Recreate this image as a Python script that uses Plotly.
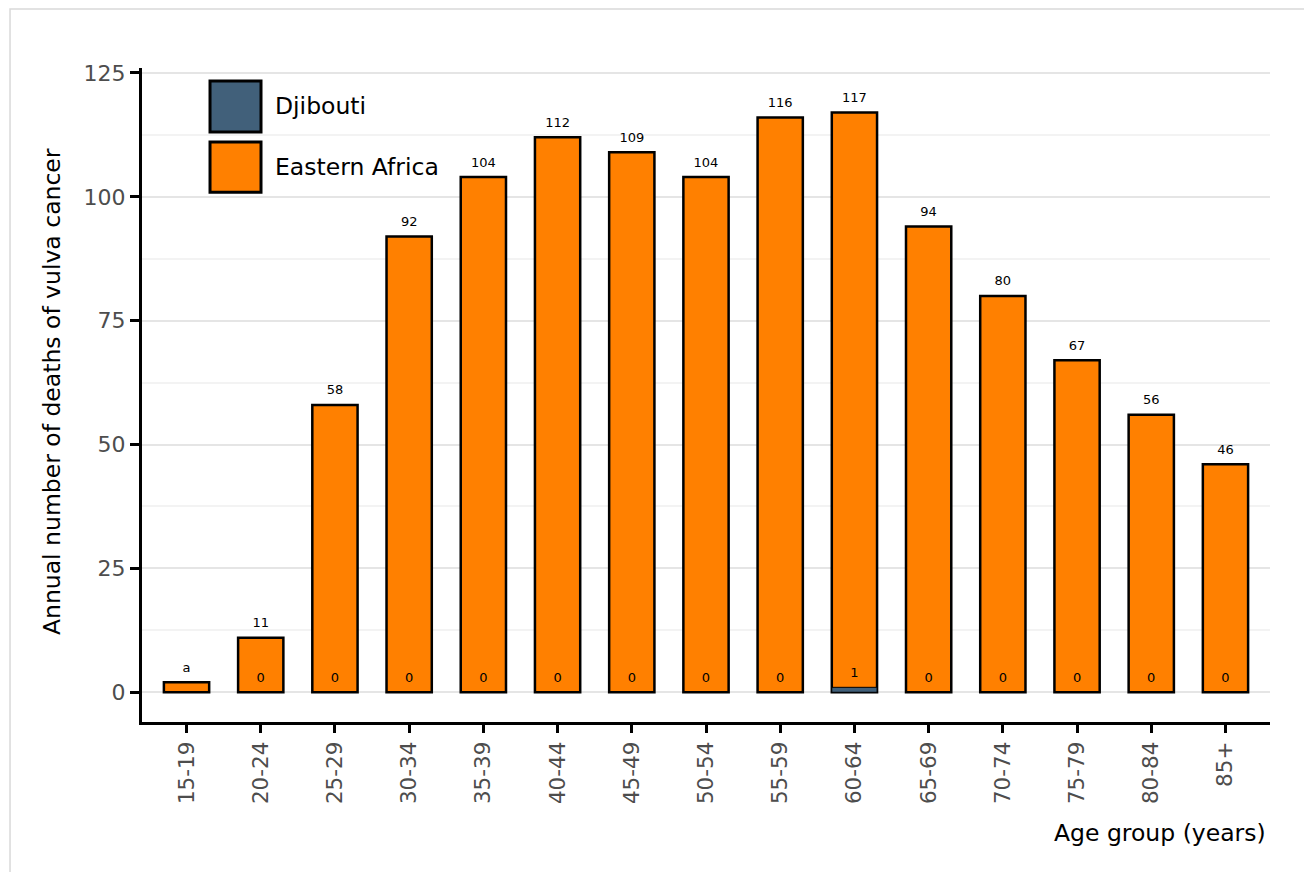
import plotly.graph_objects as go

age_groups = ["15-19", "20-24", "25-29", "30-34", "35-39", "40-44", "45-49", "50-54",
              "55-59", "60-64", "65-69", "70-74", "75-79", "80-84", "85+"]
eastern_africa = [2, 11, 58, 92, 104, 112, 109, 104, 116, 117, 94, 80, 67, 56, 46]
eastern_africa_labels = ["a", "11", "58", "92", "104", "112", "109", "104", "116", "117",
                         "94", "80", "67", "56", "46"]
djibouti = [0, 0, 0, 0, 0, 0, 0, 0, 0, 1, 0, 0, 0, 0, 0]
djibouti_labels = ["", "0", "0", "0", "0", "0", "0", "0", "0", "1", "0", "0", "0", "0", "0"]
series_names = ["Djibouti", "Eastern Africa"]
colors = {"Djibouti": "#41607a", "Eastern Africa": "#ff8000"}
font = "DejaVu Sans"

fig = go.Figure()
fig.add_trace(go.Bar(x=age_groups, y=eastern_africa, name="Eastern Africa", width=0.61,
                     marker=dict(color=colors["Eastern Africa"], line=dict(color="black", width=2.5)),
                     showlegend=False))
fig.add_trace(go.Bar(x=age_groups, y=djibouti, name="Djibouti", width=0.61,
                     marker=dict(color=colors["Djibouti"], line=dict(color="black", width=1)),
                     showlegend=False))
for vals, labels in [(eastern_africa, eastern_africa_labels), (djibouti, djibouti_labels)]:
    fig.add_trace(go.Scatter(x=age_groups, y=vals, mode="markers+text", text=labels,
                             marker=dict(size=10, color="rgba(0,0,0,0)"),
                             textposition="top center",
                             textfont=dict(size=13, color="black", family=font),
                             showlegend=False, cliponaxis=False, hoverinfo="skip"))

# custom legend with large swatches
legend_boxes = [(0.980, 0.902, 0.942), (0.887, 0.810, 0.849)]
for name, (y1, y0, yc) in zip(series_names, legend_boxes):
    fig.add_shape(type="rect", xref="paper", yref="paper",
                  x0=0.0603, x1=0.1055, y0=y0, y1=y1,
                  fillcolor=colors[name], line=dict(color="black", width=3))
    fig.add_annotation(xref="paper", yref="paper", x=0.116, y=yc, text=name,
                       showarrow=False, xanchor="left", yanchor="middle",
                       font=dict(size=23.5, color="black", family=font))

# outer frame
fig.add_shape(type="rect", xref="paper", yref="paper", x0=-0.117, x1=1.2, y0=-0.5, y1=1.0902,
              line=dict(color="#d9d9d9", width=1.5), layer="below")

fig.update_layout(
    width=1312, height=872,
    margin=dict(l=134, r=50, t=60, b=158),
    plot_bgcolor="white", paper_bgcolor="white",
    barmode="overlay",
    font=dict(family=font),
    xaxis=dict(
        range=[-0.6, 14.6], showline=True, linecolor="black", linewidth=3,
        ticks="outside", ticklen=8, tickwidth=3, tickcolor="black", tickangle=-90,
        tickfont=dict(size=21.5, color="#4d4d4d", family=font), showgrid=False, zeroline=False,
    ),
    yaxis=dict(
        range=[-6, 126], showline=True, linecolor="black", linewidth=3,
        ticks="outside", ticklen=9, tickwidth=3, tickcolor="black",
        tickvals=[0, 25, 50, 75, 100, 125],
        tickfont=dict(size=22, color="#4d4d4d", family=font),
        showgrid=True, gridcolor="#e5e5e5", gridwidth=2, zeroline=False,
        minor=dict(tickvals=[12.5, 37.5, 62.5, 87.5, 112.5], showgrid=True,
                   gridcolor="#f3f3f3", gridwidth=1.5),
    ),
)

fig.add_annotation(xref="paper", yref="paper", x=0.998, y=-0.170, text="Age group (years)",
                   showarrow=False, xanchor="right", yanchor="middle",
                   font=dict(size=23.5, color="black", family=font))
fig.add_annotation(xref="paper", yref="paper", x=-0.0798, y=0.506,
                   text="Annual number of deaths of vulva cancer", textangle=-90,
                   showarrow=False, xanchor="center", yanchor="middle",
                   font=dict(size=23.5, color="black", family=font))

fig.write_html("out.html")
